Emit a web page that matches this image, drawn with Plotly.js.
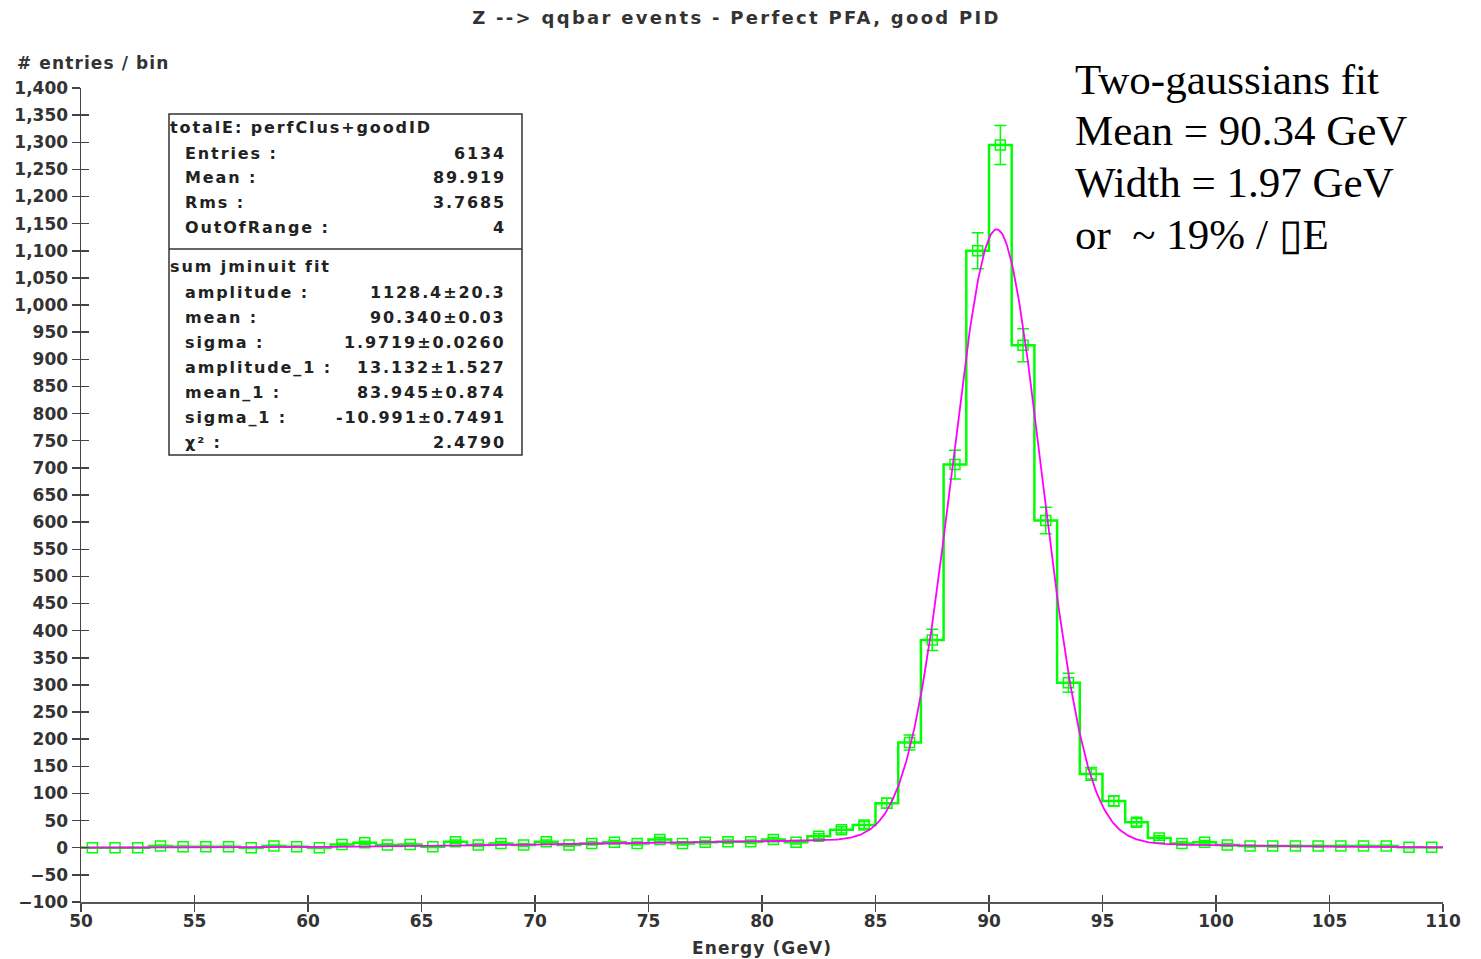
<!DOCTYPE html>
<html>
<head>
<meta charset="utf-8">
<script src="https://cdn.plot.ly/plotly-3.0.1.min.js"></script>
<style>
  html, body { margin: 0; padding: 0; background: #fff; }
  #chart { width: 1481px; height: 959px; }
  text[style*="Verdana"] { letter-spacing: 1.9px; }
  text[style*="Tahoma"] { letter-spacing: 2.3px; }
  text[style*="Geneva"] { letter-spacing: 1.1px; }
</style>
</head>
<body>
<div id="chart"></div>
<script>
// ---- data ----
const binCenters = [50.5, 51.5, 52.5, 53.5, 54.5, 55.5, 56.5, 57.5, 58.5, 59.5,
  60.5, 61.5, 62.5, 63.5, 64.5, 65.5, 66.5, 67.5, 68.5, 69.5,
  70.5, 71.5, 72.5, 73.5, 74.5, 75.5, 76.5, 77.5, 78.5, 79.5,
  80.5, 81.5, 82.5, 83.5, 84.5, 85.5, 86.5, 87.5, 88.5, 89.5,
  90.5, 91.5, 92.5, 93.5, 94.5, 95.5, 96.5, 97.5, 98.5, 99.5,
  100.5, 101.5, 102.5, 103.5, 104.5, 105.5, 106.5, 107.5, 108.5, 109.5];
const entries = [0, 0, 0, 3, 2, 2, 2, 0, 3, 2,
  0, 6, 9, 5, 6, 2, 11, 5, 8, 5,
  11, 5, 8, 10, 8, 15, 8, 10, 11, 11,
  15, 10, 21, 33, 42, 82, 194, 383, 706, 1100,
  1295, 926, 603, 304, 136, 86, 47, 18, 8, 10,
  5, 3, 3, 3, 3, 3, 3, 3, 1, 1];
const binWidth = 1.0;

// two-gaussian fit parameters (from the stats box)
const fitAmplitude = [1128.4, 13.132];
const fitMean = [90.340, 83.945];
const fitSigma = [1.9719, -10.991];

const statsHeader1 = "totalE: perfClus+goodID";
const statsLabels1 = ["Entries :", "Mean :", "Rms :", "OutOfRange :"];
const statsValues1 = ["6134", "89.919", "3.7685", "4"];
const statsHeader2 = "sum jminuit fit";
const statsLabels2 = ["amplitude :", "mean :", "sigma :", "amplitude_1 :", "mean_1 :", "sigma_1 :", "\u03C7\u00B2 :"];
const statsValues2 = ["1128.4\u00B120.3", "90.340\u00B10.03", "1.9719\u00B10.0260", "13.132\u00B11.527", "83.945\u00B10.874", "-10.991\u00B10.7491", "2.4790"];

const noteLines = ["Two-gaussians fit", "Mean = 90.34 GeV", "Width = 1.97 GeV", "or  ~ 19% / \u25AFE"];

const xRange = [50, 110];
const yRange = [-100, 1400];

// ---- derived ----
const edges = binCenters.map(c => c - binWidth / 2).concat([binCenters[binCenters.length - 1] + binWidth / 2]);
const stepY = entries.concat([entries[entries.length - 1]]);
const errs = entries.map(v => Math.sqrt(v));

function fitFn(x) {
  let s = 0;
  for (let i = 0; i < fitAmplitude.length; i++) {
    const z = (x - fitMean[i]) / fitSigma[i];
    s += fitAmplitude[i] * Math.exp(-0.5 * z * z);
  }
  return s;
}
const fitX = [], fitY = [];
for (let k = 0; k <= 1200; k++) {
  const x = xRange[0] + (xRange[1] - xRange[0]) * k / 1200;
  fitX.push(x); fitY.push(fitFn(x));
}

// ---- geometry helpers (pixel -> paper) ----
const W = 1481, H = 959;
const M = {l: 81, r: 38, t: 88, b: 57};
const PW = W - M.l - M.r, PH = H - M.t - M.b;
const px = x => (x - M.l) / PW;
const py = y => (H - M.b - y) / PH;

const GREEN = '#00ff00';
const MAGENTA = '#ff00ff';
const TXT = '#333333';
const axFont = {family: 'DejaVu Sans', size: 17, color: TXT, weight: 'bold'};
const axTitleFont = {family: "'DejaVu Sans', Geneva", size: 17, color: TXT, weight: 'bold'};
const boxFont = {family: "'DejaVu Sans', Verdana", size: 16, color: '#222222', weight: 'bold'};

const traces = [
  {x: edges, y: stepY, type: 'scatter', mode: 'lines', line: {shape: 'hv', color: GREEN, width: 2.5}, hoverinfo: 'skip'},
  {x: binCenters, y: entries, type: 'scatter', mode: 'markers',
   marker: {symbol: 'square-open', size: 10, color: GREEN, line: {color: GREEN, width: 1.5}},
   error_y: {type: 'data', array: errs, visible: true, color: GREEN, thickness: 1.5, width: 6}},
  {x: fitX, y: fitY, type: 'scatter', mode: 'lines', line: {color: MAGENTA, width: 1.8}, hoverinfo: 'skip'},
  {x: [xRange[0]], y: [yRange[0]], xaxis: 'x2', yaxis: 'y2', type: 'scatter', mode: 'markers', marker: {opacity: 0}, hoverinfo: 'skip'}
];

const annotations = [];
function ann(text, x, y, xanchor, font) {
  annotations.push({text: text, x: px(x), y: py(y), xref: 'paper', yref: 'paper', xanchor: xanchor, yanchor: 'middle', showarrow: false, font: font});
}
ann('# entries / bin', 15, 63, 'left', axTitleFont);
ann('Energy (GeV)', 762, 948, 'center', axTitleFont);

const rows1 = [153, 178, 202, 227];
const rows2 = [292, 317, 342, 367, 392, 417, 442];
ann(statsHeader1, 168, 127, 'left', boxFont);
statsLabels1.forEach((t, i) => { ann(t, 183, rows1[i], 'left', boxFont); ann(statsValues1[i], 508, rows1[i], 'right', boxFont); });
ann(statsHeader2, 168, 266, 'left', boxFont);
statsLabels2.forEach((t, i) => { ann(t, 183, rows2[i], 'left', boxFont); ann(statsValues2[i], 508, rows2[i], 'right', boxFont); });

const noteFont = {family: 'Liberation Serif', size: 43, color: '#000000'};
const noteRows = [79.5, 131, 182.5, 234];
noteLines.forEach((t, i) => ann(t, 1073, noteRows[i], 'left', noteFont));

const shapes = [
  {type: 'rect', xref: 'paper', yref: 'paper', x0: px(169), x1: px(522), y0: py(455), y1: py(114), line: {color: '#333333', width: 1.5}, fillcolor: 'rgba(0,0,0,0)'},
  {type: 'line', xref: 'paper', yref: 'paper', x0: px(169), x1: px(522), y0: py(249), y1: py(249), line: {color: '#333333', width: 1.5}}
];

const layout = {
  width: W, height: H,
  margin: M,
  paper_bgcolor: '#ffffff', plot_bgcolor: '#ffffff',
  showlegend: false,
  separators: '.,',
  title: {text: 'Z --> qqbar events - Perfect PFA, good PID', x: 736.5 / W, xref: 'container', xanchor: 'center', y: 1 - 18 / H, yref: 'container', yanchor: 'middle',
          font: {family: "'DejaVu Sans', Tahoma", size: 18, color: TXT, weight: 'bold'}},
  xaxis: {range: xRange, dtick: 5, tick0: 50, showgrid: false, zeroline: false, showline: true, linecolor: '#555555', linewidth: 2,
          ticks: 'outside', ticklen: 8, tickwidth: 1.5, tickcolor: '#444444', tickfont: axFont, ticklabelstandoff: -5},
  yaxis: {range: yRange, dtick: 50, tick0: 0, showgrid: false, zeroline: false, showline: true, linecolor: '#444444', linewidth: 1.5,
          ticks: 'outside', ticklen: 8, tickwidth: 1.5, tickcolor: '#444444', tickfont: axFont, separatethousands: true, ticklabelstandoff: 0},
  xaxis2: {range: xRange, dtick: 5, tick0: 50, overlaying: 'x', showgrid: false, zeroline: false, showline: false,
           ticks: 'inside', ticklen: 7, tickwidth: 1.5, tickcolor: '#444444', showticklabels: false},
  yaxis2: {range: yRange, dtick: 50, tick0: 0, overlaying: 'y', showgrid: false, zeroline: false, showline: false,
           ticks: 'inside', ticklen: 8, tickwidth: 1.5, tickcolor: '#444444', showticklabels: false},
  annotations: annotations,
  shapes: shapes
};

Plotly.newPlot('chart', traces, layout, {staticPlot: true, displayModeBar: false});
</script>
</body>
</html>
